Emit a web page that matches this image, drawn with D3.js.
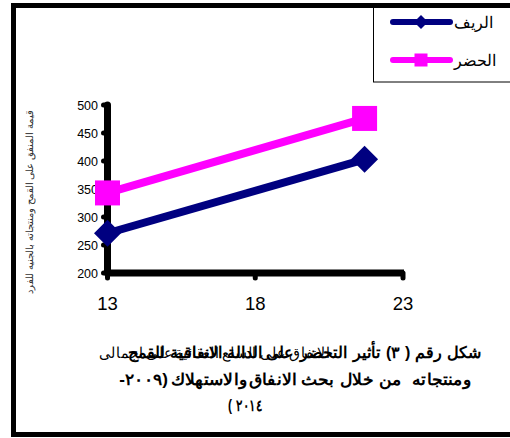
<!DOCTYPE html>
<html><head><meta charset="utf-8">
<script src="https://cdn.jsdelivr.net/npm/d3@7"></script>
<style>html,body{margin:0;padding:0;background:#fff;}svg{display:block;}</style>
</head><body>
<script>
const xValues = [13, 21.7];
const seriesNames = ["الريف", "الحضر"];
const ruralValues = [271, 403];
const urbanValues = [343, 476];
const yTicks = [200, 250, 300, 350, 400, 450, 500];
const xTicks = [13, 18, 23];
const yTitle = "قيمة المنفق على القمح ومنتجاته بالجنيه للفرد";
const captionOverlay = ["الانفاق", "على", "السلع", "الغذائية", "على", "اجمالى"];
const captionLine1 = ["شكل", "رقم", "(", "٣)", "تأثير", "التحضر", "على", "الدالة", "الانفاقية", "للقمح"];
const captionLine2 = ["ومنتجاته", " ", "من", "خلال", "بحث", "الانفاق", "والاستهلاك", "(٢٠٠٩-"];
const captionLine3 = ["٢٠١٤", ")"];

const W = 510, H = 438;
const svg = d3.select("body").append("svg").attr("width", W).attr("height", H);
const font = "Liberation Sans, Arial, sans-serif";

svg.append("rect").attr("x", 13.5).attr("y", 5.5).attr("width", 520).attr("height", 429)
  .attr("fill", "none").attr("stroke", "#000").attr("stroke-width", 5);

const x = d3.scaleLinear().domain([13, 23]).range([107.5, 403]);
const y = d3.scaleLinear().domain([200, 500]).range([273, 105]);

const g = svg.append("g");
g.selectAll(".yt").data(yTicks).enter().append("line")
  .attr("x1", x(13) - 4).attr("x2", x(13)).attr("y1", d => y(d)).attr("y2", d => y(d))
  .attr("stroke", "#000").attr("stroke-width", 5).attr("stroke-linecap", "round");
g.selectAll(".yl").data(yTicks).enter().append("text")
  .attr("x", 98).attr("y", d => y(d)).attr("dy", "0.36em").attr("text-anchor", "end")
  .attr("font-family", font).attr("font-size", 12.5).text(d => d);
g.selectAll(".xt").data(xTicks).enter().append("line")
  .attr("x1", d => x(d)).attr("x2", d => x(d)).attr("y1", y(200)).attr("y2", y(200) + 5)
  .attr("stroke", "#000").attr("stroke-width", 5).attr("stroke-linecap", "round");
g.selectAll(".xl").data(xTicks).enter().append("text")
  .attr("x", d => x(d)).attr("y", 310).attr("text-anchor", "middle")
  .attr("font-family", font).attr("font-size", 18.5).text(d => d);

g.append("line").attr("x1", x(13)).attr("x2", x(13)).attr("y1", y(500)).attr("y2", y(200))
  .attr("stroke", "#000").attr("stroke-width", 7).attr("stroke-linecap", "round");
g.append("line").attr("x1", x(13)).attr("x2", x(23) + 1).attr("y1", y(200)).attr("y2", y(200))
  .attr("stroke", "#000").attr("stroke-width", 7);

svg.append("text").attr("transform", `translate(33,${(108 + 296) / 2}) rotate(-90)`)
  .attr("text-anchor", "middle").attr("direction", "rtl").attr("font-family", font)
  .attr("font-size", 10).attr("fill", "#333").text(yTitle);

const series = [
  {name: seriesNames[0], vals: ruralValues, color: "#000080", marker: "diamond"},
  {name: seriesNames[1], vals: urbanValues, color: "#FF00FF", marker: "square"}
];
const line = d3.line().x((d, i) => x(xValues[i])).y(d => y(d));
series.forEach(s => {
  svg.append("path").attr("d", line(s.vals)).attr("fill", "none")
    .attr("stroke", s.color).attr("stroke-width", 8);
  s.vals.forEach((v, i) => {
    const cx = x(xValues[i]), cy = y(v);
    if (s.marker === "diamond") {
      svg.append("path").attr("d", `M${cx},${cy-13.5}L${cx+13.5},${cy}L${cx},${cy+13.5}L${cx-13.5},${cy}Z`).attr("fill", s.color);
    } else {
      svg.append("rect").attr("x", cx - 12.5).attr("y", cy - 12.5).attr("width", 25).attr("height", 25).attr("fill", s.color);
    }
  });
});

svg.append("rect").attr("x", 373.5).attr("y", 5).attr("width", 150).attr("height", 77)
  .attr("fill", "#fff").attr("stroke", "#000").attr("stroke-width", 1);
svg.append("line").attr("x1", 13.5).attr("x2", 520).attr("y1", 5.5).attr("y2", 5.5)
  .attr("stroke", "#000").attr("stroke-width", 5);
const ly = [22, 60];
series.forEach((s, i) => {
  svg.append("line").attr("x1", 393).attr("x2", 450).attr("y1", ly[i]).attr("y2", ly[i])
    .attr("stroke", s.color).attr("stroke-width", 6).attr("stroke-linecap", "round");
  const cx = 421, cy = ly[i];
  if (s.marker === "diamond") {
    svg.append("path").attr("d", `M${cx},${cy-7}L${cx+7},${cy}L${cx},${cy+7}L${cx-7},${cy}Z`).attr("fill", s.color);
  } else {
    svg.append("rect").attr("x", cx - 6.5).attr("y", cy - 6.5).attr("width", 13).attr("height", 13).attr("fill", s.color);
  }
  svg.append("text").attr("x", 454).attr("y", cy).attr("dy", "0.35em")
    .attr("font-family", font).attr("font-size", 16).text(s.name);
});

// caption: words placed right to left (first word at the right), fitted to a span
function wordsRTL(words, x0, x1, yb, size, weight) {
  const grp = svg.append("g");
  const gap = size * 0.3;
  let cx = 0;
  words.forEach(w => {
    if (w.trim() === "") { cx -= gap; return; }
    const t = grp.append("text").attr("x", cx).attr("y", 0).attr("direction", "rtl")
      .attr("font-family", font).attr("font-size", size).attr("font-weight", weight).text(w);
    const bb = t.node().getBBox();
    t.attr("x", cx + (cx - (bb.x + bb.width)));
    cx -= bb.width + gap;
  });
  const total = -(cx + gap);
  const sx = (x1 - x0) / total;
  grp.attr("transform", `translate(${x1},${yb}) scale(${sx},1)`);
}
wordsRTL(captionOverlay, 100, 330, 358, 15, "normal");
wordsRTL(captionLine1, 128, 481, 358, 16, "bold");
wordsRTL(captionLine2, 118, 471, 385, 16, "bold");
wordsRTL(captionLine3, 228, 263, 411, 16, "bold");
</script>
</body></html>
